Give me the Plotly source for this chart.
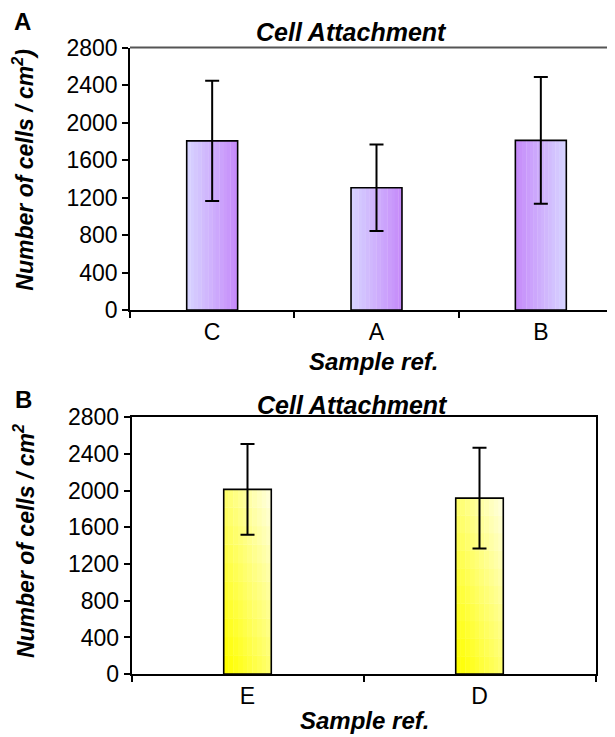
import plotly.graph_objects as go

# ---- data ----
cats_a = ["C", "A", "B"]
vals_a = [1805, 1305, 1810]
errs_a = [640, 460, 675]

cats_b = ["E", "D"]
vals_b = [2015, 1920]
errs_b = [495, 550]

yticks = [0, 400, 800, 1200, 1600, 2000, 2400, 2800]

W, H = 615, 737
# map wanted screen pixels to paper coords (empirical page offset/scale)
OX, OY, SY = 7.5, 18.8, 0.9715
def px(x):
    return (x - OX) / W
def py(y):
    return 1 - ((y - OY) / SY) / H

FONT = "Liberation Sans, Arial, sans-serif"
fig = go.Figure()

def lerp(c1, c2, t):
    return "rgb(%d,%d,%d)" % tuple(round(a + (b - a) * t) for a, b in zip(c1, c2))

# ---- panel A : horizontal gradient slices ----
wa = 0.31
N = 14
light_p = (214, 210, 255)
dark_p = (198, 140, 250)
direction_a = [0, 0, 1]
for i in range(N):
    t = i / (N - 1)
    cols = [lerp(light_p, dark_p, t if d == 0 else 1 - t) for d in direction_a]
    fig.add_trace(go.Bar(x=cats_a, y=vals_a, width=wa / N * 1.08,
                         offset=-wa / 2 + i * wa / N,
                         marker=dict(color=cols, line=dict(width=0)),
                         xaxis="x", yaxis="y", showlegend=False, hoverinfo="skip"))
fig.add_trace(go.Bar(x=cats_a, y=vals_a, width=wa,
                     marker=dict(color="rgba(0,0,0,0)", line=dict(color="black", width=1.6)),
                     error_y=dict(type="data", array=errs_a, color="black", thickness=2, width=7),
                     xaxis="x", yaxis="y", showlegend=False))

# ---- panel B : diagonal gradient slices ----
wb = 0.205
NB, MB = 10, 10
sat_y = (255, 255, 0)
pale_y = (255, 255, 215)
for i in range(NB):
    for j in range(MB):
        t = 0.5 * (i / (NB - 1)) + 0.5 * (j / (MB - 1))
        col = lerp(sat_y, pale_y, t)
        fig.add_trace(go.Bar(x=cats_b, y=[v / MB * 1.02 for v in vals_b],
                             base=[v * j / MB for v in vals_b],
                             width=wb / NB * 1.08, offset=-wb / 2 + i * wb / NB,
                             marker=dict(color=col, line=dict(width=0)),
                             xaxis="x2", yaxis="y2", showlegend=False, hoverinfo="skip"))
fig.add_trace(go.Bar(x=cats_b, y=vals_b, width=wb,
                     marker=dict(color="rgba(0,0,0,0)", line=dict(color="black", width=1.6)),
                     error_y=dict(type="data", array=errs_b, color="black", thickness=2, width=7),
                     xaxis="x2", yaxis="y2", showlegend=False))

tickfont = dict(family=FONT, size=23, color="black")
common_y = dict(range=[0, 2800], tickvals=yticks, ticks="outside", ticklen=6, tickwidth=1.5,
                tickcolor="black", showline=True, linecolor="black", linewidth=1.6,
                showgrid=False, zeroline=False, tickfont=tickfont, fixedrange=True)
common_x = dict(type="category", ticks="outside", tickson="boundaries", ticklen=6, tickwidth=1.5,
                tickcolor="black", showline=True, linecolor="black", linewidth=1.6,
                showgrid=False, zeroline=False, tickfont=tickfont, fixedrange=True)

fig.update_layout(
    width=W, height=H, margin=dict(l=0, r=0, t=0, b=0),
    paper_bgcolor="white", plot_bgcolor="white", barmode="overlay",
    showlegend=False,
    xaxis=dict(domain=[px(129.5), 1.0], anchor="y", range=[-0.5, 2.5], **common_x),
    yaxis=dict(domain=[py(310), py(45.5)], anchor="x", **common_y),
    xaxis2=dict(domain=[px(131), px(595)], anchor="y2", range=[-0.5, 1.5], mirror=True, **common_x),
    yaxis2=dict(domain=[py(676.5), py(418)], anchor="x2", mirror=True, **common_y),
)

fig.add_shape(type="line", xref="x domain", yref="y domain", x0=0, x1=1, y0=1, y1=1,
              line=dict(color="#555555", width=2))

bi = lambda s: "<b><i>" + s + "</i></b>"
ann = [
    dict(text="<b>A</b>", x=px(22), y=py(19), size=24),
    dict(text="<b>B</b>", x=px(23), y=py(400), size=24),
    dict(text=bi("Cell Attachment"), x=px(351), y=py(29.5), size=25),
    dict(text=bi("Cell Attachment"), x=px(352), y=py(405), size=25),
    dict(text=bi("Sample ref."), x=px(373), y=py(362), size=24),
    dict(text=bi("Sample ref."), x=px(364), y=py(723), size=24),
]
for a in ann:
    fig.add_annotation(text=a["text"], x=a["x"], y=a["y"], xref="paper", yref="paper",
                       showarrow=False, xanchor="center", yanchor="middle",
                       font=dict(family=FONT, size=a["size"], color="black"))
fig.add_annotation(text=bi("Number of cells / cm<sup>2</sup>)"), x=px(23), y=py(169),
                   xref="paper", yref="paper", showarrow=False, textangle=-90,
                   xanchor="center", yanchor="middle",
                   font=dict(family=FONT, size=23, color="black"))
fig.add_annotation(text=bi("Number of cells / cm<sup>2</sup>"), x=px(23), y=py(543),
                   xref="paper", yref="paper", showarrow=False, textangle=-90,
                   xanchor="center", yanchor="middle",
                   font=dict(family=FONT, size=23, color="black"))

fig.write_html("out.html")
